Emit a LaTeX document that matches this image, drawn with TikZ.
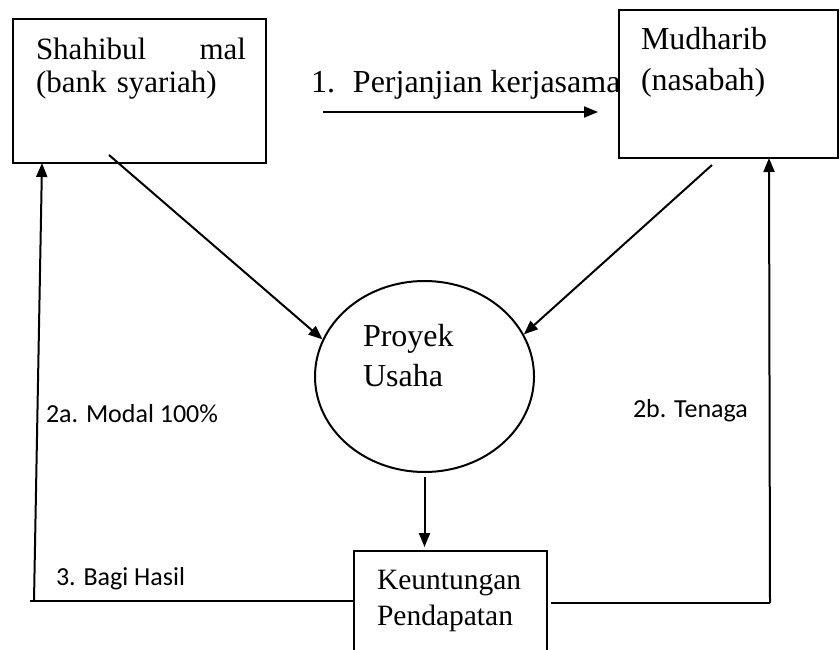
\documentclass[tikz,border=0pt]{standalone}
\usepackage{fontspec}
\setmainfont{Liberation Serif}
\newfontfamily\labelfont{Carlito}
\usetikzlibrary{shapes.geometric,arrows.meta}

\begin{document}
\begin{tikzpicture}[x=1pt,y=-1pt,line width=2pt,
    >={Triangle[length=14pt,width=11pt]}]

      \useasboundingbox (0,0) rectangle (840,650);
      \clip (0,0) rectangle (840,650);

      \begin{scope}[every node/.style={draw,inner sep=0pt}]
        \node (shahib) [minimum width=253,minimum height=144] at (139.5,91) {};
        \node (mudh)   [minimum width=219,minimum height=148] at (728.5,84) {};
        \node (proyek) [ellipse,minimum width=219,minimum height=191] at (424.5,376.5) {};
        \node (keunt)  [minimum width=193,minimum height=130] at (450.5,616) {};
      \end{scope}

      % text lines (base of the last line, or of the first one with text width)
      \begin{scope}[every node/.style={anchor=base west,inner sep=0pt,align=left,
          font=\fontsize{32}{33}\selectfont}]
        \node (shahibtxt) [text width=210,font=\fontsize{31}{33}\selectfont]
          at (35,60) {Shahibul\hfill mal\\(bank syariah)};
        \node (mudhtxt) [font=\fontsize{32}{41}\selectfont] at (640,91) {Mudharib\\(nasabah)};
        \node (proyektxt) [font=\fontsize{32}{40}\selectfont] at (362,386) {Proyek\\Usaha};
        \node (keunttxt) [font=\fontsize{29.5}{36}\selectfont] at (376,625) {Keuntungan\\Pendapatan};
        \node (perj) at (310,93) {1.\hspace{18pt}Perjanjian kerjasama};
      \end{scope}

      \begin{scope}[every node/.style={anchor=base west,inner sep=0pt,
          font=\labelfont\fontsize{26}{30}\selectfont}]
        \node (modal)  at (45,422) {2a. Modal 100\%};
        \node (tenaga) at (632,417) {2b. Tenaga};
        \node (bagi)   at (55,585) {3. Bagi Hasil};
      \end{scope}

      % free ends of the connectors
      \coordinate (perjA) at (323,112);
      \coordinate (perjB) at (598,112);
      \coordinate (shahibout) at (109,155);
      \coordinate (mudhout) at (712,165);
      \coordinate (leftbot) at (34,601);
      \coordinate (lefttop) at (42,163);
      \coordinate (rightbot) at (770,603);
      \coordinate (righttop) at (769,158);

      \draw[->] (perjA) -- (perjB);
      \draw[->] (shahibout) -- (proyek.160);
      \draw[->] (mudhout) -- (proyek.23);
      \draw[->] ([yshift=-4pt]proyek.south) -- ([yshift=3pt]proyek.south |- keunt.north);
      \draw (keunt.west |- leftbot) -- (30,601);
      \draw[->] (leftbot) -- (lefttop);
      \draw ([xshift=3pt]keunt.east |- rightbot) -- (rightbot);
      \draw[->] (rightbot) -- (righttop);

    \end{tikzpicture}
\end{document}
